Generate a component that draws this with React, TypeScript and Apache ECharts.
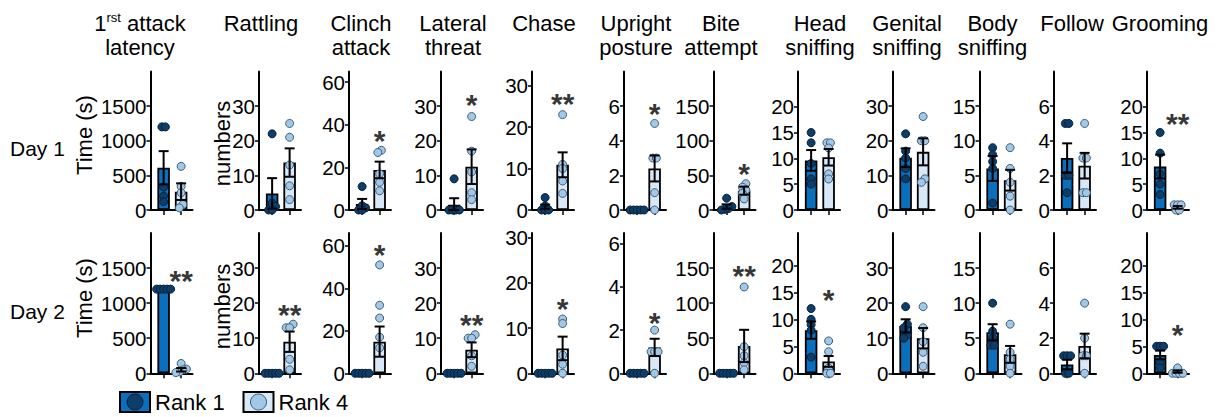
import React, { useEffect, useRef } from "react";
import * as echarts from "echarts";

// ---------- data ----------
const titles: string[][] = [
  ["1rst attack", "latency"], ["Rattling"], ["Clinch", "attack"], ["Lateral", "threat"],
  ["Chase"], ["Upright", "posture"], ["Bite", "attempt"], ["Head", "sniffing"],
  ["Genital", "sniffing"], ["Body", "sniffing"], ["Follow"], ["Grooming"],
];
const rowLabels = ["Day 1", "Day 2"];
const yNames = ["Time (s)", "numbers"];
const legendNames = ["Rank 1", "Rank 4"];

const yMaxDay1 = [2000, 40, 65, 40, 33.4, 8, 200, 26.8, 40, 20, 8, 26.8];
const yMaxDay2 = [2000, 40, 66, 40, 31, 6.5, 200, 26, 40, 20, 8, 26];
const yTicks = [
  [0, 500, 1000, 1500], [0, 10, 20, 30], [0, 20, 40, 60], [0, 10, 20, 30],
  [0, 10, 20, 30], [0, 2, 4, 6], [0, 50, 100, 150], [0, 5, 10, 15, 20],
  [0, 10, 20, 30], [0, 5, 10, 15], [0, 2, 4, 6], [0, 5, 10, 15, 20],
];

// Day 1
const day1Rank1Points = [
  [1200, 1200, 330, 200, 120], [22, 2, 1, 0, 0], [11, 2, 1, 0, 0], [9, 0, 0, 0, 0],
  [3, 1, 0, 0, 0], [0, 0, 0, 0, 0], [17, 5, 2, 1, 0], [15, 13, 9, 6, 5],
  [22, 17, 15, 12, 9], [9, 8, 7, 6, 1], [5, 5, 2, 2, 1], [15, 11, 7, 5, 3],
];
const day1Rank1Mean = [610, 4.8, 2.8, 1.5, 0.8, 0, 5, 9.6, 15.1, 6.0, 3.0, 8.4];
const day1Rank1Sem = [240, 4.4, 2.4, 1.9, 0.5, 0, 3.2, 2.0, 2.7, 1.8, 0.85, 2.3];
const day1Rank4Points = [
  [630, 340, 250, 80, 30], [25, 21, 13, 7, 3], [28, 27, 17, 13, 9], [27, 17, 11, 5, 3],
  [23, 11, 10, 7, 4], [5, 3, 3, 1, 0], [38, 33, 29, 24, 16], [13, 13, 12, 7, 6],
  [27, 20, 20, 9, 8], [9, 6, 4, 2, 0], [5, 3, 3, 1, 1], [1, 1, 1, 0, 0],
];
const day1Rank4Mean = [265, 13.7, 18.8, 12.5, 10.9, 2.4, 27.9, 10.2, 16.8, 4.3, 2.56, 0.5];
const day1Rank4Sem = [120, 4.1, 3.9, 5.0, 3.0, 0.75, 5.8, 1.6, 3.9, 1.5, 0.74, 0.25];
const day1Sig = ["", "", "*", "*", "**", "*", "*", "", "", "", "", "**"];
const day1SigY = [0, 0, 36, 32.4, 27.3, 6, 62.5, 0, 0, 0, 0, 18];

// Day 2
const day2Rank1Points = [
  [1200, 1200, 1200, 1200, 1200], [0, 0, 0, 0, 0], [0, 0, 0, 0, 0], [0, 0, 0, 0, 0],
  [0, 0, 0, 0, 0], [0, 0, 0, 0, 0], [0, 0, 0, 0, 0], [12, 10, 9, 8, 3],
  [19, 14, 13, 11, 10], [10, 6, 5, 4, 4], [1, 1, 1, 0, 0], [5, 5, 5, 2, 1],
];
const day2Rank1Mean = [1200, 0, 0, 0, 0, 0, 0, 8.0, 13.5, 5.85, 0.5, 3.4];
const day2Rank1Sem = [0, 0, 0, 0, 0, 0, 0, 1.6, 1.9, 1.15, 0.27, 0.8];
const day2Rank4Points = [
  [140, 60, 50, 20, 10], [14, 13, 13, 4, 1], [51, 32, 26, 17, 12], [11, 10, 10, 5, 2],
  [12, 11, 4, 2, 0], [2, 1, 1, 1, 0], [123, 38, 25, 15, 5], [6, 4, 1, 0, 0],
  [19, 13, 9, 6, 2], [7, 3, 2, 1, 0], [4, 2, 1, 1, 0], [1, 0, 0, 0, 0],
];
const day2Rank4Mean = [50, 9.0, 14.9, 6.7, 5.5, 1.2, 39, 2.2, 10, 2.7, 1.56, 0.3];
const day2Rank4Sem = [25, 2.9, 7.1, 2.1, 2.6, 0.4, 23, 1.0, 2.9, 1.2, 0.7, 0.2];
const day2Sig = ["**", "**", "*", "**", "*", "*", "**", "*", "", "", "", "*"];
const day2SigY = [1429, 18.9, 59, 16, 15.8, 2.7, 150, 14.9, 0, 0, 0, 8.4];

// ---------- layout / style ----------
const FONT = '"Liberation Sans", Arial, sans-serif';
const AXIS_X = [150.5, 259, 349, 441, 532, 624, 713.5, 798, 892.5, 979.5, 1054, 1147];
const ROW_TOP = [71.5, 233];
const ROW_ZERO = [210, 373.3];
const PANEL_W = 42;
const TITLE_X = [140, 261, 361, 453, 544, 636, 721, 820, 907, 992.5, 1072, 1160];
const R1_BAR = "#0a6fbd";
const R1_PT = "#0d3d69";
const R4_BAR = "#d8e8f6";
const R4_PT = "#a2c8e8";
const STEP = 3.5;
const TXT = 22;

function swarm(vals: number[], k: number): number[] {
  const idx = vals.map((_, i) => i).sort((a, b) => vals[a] - vals[b]);
  const offs = new Array(vals.length).fill(0);
  let cluster: number[] = [];
  const flush = () => {
    const m = cluster.length;
    cluster.forEach((id, j) => (offs[id] = (j - (m - 1) / 2) * STEP));
    cluster = [];
  };
  for (const id of idx) {
    if (cluster.length && (vals[id] - vals[cluster[0]]) * k > 4) flush();
    cluster.push(id);
  }
  flush();
  return offs;
}

function buildOption() {
  const grid: any[] = [];
  const xAxis: any[] = [];
  const yAxis: any[] = [];
  const series: any[] = [];
  const graphic: any[] = [];

  const rows = [
    { max: yMaxDay1, p1: day1Rank1Points, m1: day1Rank1Mean, s1: day1Rank1Sem, p4: day1Rank4Points, m4: day1Rank4Mean, s4: day1Rank4Sem, sig: day1Sig, sigY: day1SigY },
    { max: yMaxDay2, p1: day2Rank1Points, m1: day2Rank1Mean, s1: day2Rank1Sem, p4: day2Rank4Points, m4: day2Rank4Mean, s4: day2Rank4Sem, sig: day2Sig, sigY: day2SigY },
  ];

  rows.forEach((row, r) => {
    for (let p = 0; p < 12; p++) {
      const gi = r * 12 + p;
      const h = ROW_ZERO[r] - ROW_TOP[r];
      const max = row.max[p];
      const k = h / max;
      grid.push({ left: AXIS_X[p], top: ROW_TOP[r], width: PANEL_W, height: h, containLabel: false, outerBoundsMode: "none" });
      xAxis.push({
        gridIndex: gi, type: "value", min: -0.75, max: 1.65,
        axisLine: { show: true, onZero: true, lineStyle: { color: "#000", width: 2 } },
        axisTick: { show: true, customValues: [0, 1], length: 5, lineStyle: { color: "#000", width: 1.5 } },
        axisLabel: { show: false }, splitLine: { show: false },
      });
      yAxis.push({
        gridIndex: gi, type: "value", min: 0, max,
        axisLine: { show: true, onZero: false, lineStyle: { color: "#000", width: 2 } },
        axisTick: { show: true, customValues: yTicks[p], length: 4, lineStyle: { color: "#000", width: 1.5 } },
        axisLabel: {
          show: true, customValues: yTicks[p], color: "#000", fontSize: 20.5, fontFamily: FONT,
          margin: 4, padding: [0, 0, 12, 0], formatter: (v: number) => String(v),
        },
        splitLine: { show: false },
      });
      series.push({
        type: "bar", xAxisIndex: gi, yAxisIndex: gi, barWidth: 12.5, silent: true, z: 2,
        itemStyle: { borderColor: "#000", borderWidth: 1.8 },
        data: [
          { value: [0, row.m1[p]], itemStyle: { color: R1_BAR } },
          { value: [1, row.m4[p]], itemStyle: { color: R4_BAR } },
        ],
      });
      const o1 = swarm(row.p1[p], k);
      series.push({
        type: "scatter", xAxisIndex: gi, yAxisIndex: gi, clip: false, silent: true, z: 3,
        symbol: "circle", symbolSize: 8,
        itemStyle: { color: R1_PT, borderColor: "#06223d", borderWidth: 1, opacity: 1 },
        data: row.p1[p].map((v, i) => ({ value: [0, v], symbolOffset: [o1[i], 0] })),
      });
      const o4 = swarm(row.p4[p], k);
      series.push({
        type: "scatter", xAxisIndex: gi, yAxisIndex: gi, clip: false, silent: true, z: 3,
        symbol: "circle", symbolSize: 8,
        itemStyle: { color: R4_PT, borderColor: "#3e5d7a", borderWidth: 1, opacity: 1 },
        data: row.p4[p].map((v, i) => ({ value: [1, v], symbolOffset: [o4[i], 0] })),
      });
      series.push({
        type: "custom", xAxisIndex: gi, yAxisIndex: gi, silent: true, z: 4, clip: false,
        data: [[0, row.m1[p], row.s1[p]], [1, row.m4[p], row.s4[p]]],
        renderItem: (params: any, api: any) => {
          const x = api.value(0), m = api.value(1), s = api.value(2);
          if (!(s > 0)) return { type: "group", children: [] };
          const top = api.coord([x, m + s]);
          const bot = api.coord([x, Math.max(0, m - s)]);
          const hw = 5;
          const st = { stroke: "#000", lineWidth: 2 };
          return {
            type: "group",
            children: [
              { type: "line", shape: { x1: top[0], y1: top[1], x2: bot[0], y2: bot[1] }, style: st },
              { type: "line", shape: { x1: top[0] - hw, y1: top[1], x2: top[0] + hw, y2: top[1] }, style: st },
              { type: "line", shape: { x1: bot[0] - hw, y1: bot[1], x2: bot[0] + hw, y2: bot[1] }, style: st },
            ],
          };
        },
      });
      if (row.sig[p]) {
        series.push({
          type: "scatter", xAxisIndex: gi, yAxisIndex: gi, clip: false, silent: true, z: 5,
          symbol: "circle", symbolSize: 1, itemStyle: { color: "rgba(0,0,0,0)" },
          label: {
            show: true, position: "inside", formatter: row.sig[p], color: "#000",
            fontSize: 30, fontWeight: "bold", fontFamily: FONT, offset: [0, 7],
          },
          data: [[1, row.sigY[p]]],
        });
      }
    }
  });

  // titles
  titles.forEach((t, p) => {
    t.forEach((line, li) => {
      const y = li === 0 ? 23.2 : 47.6;
      if (line.startsWith("1rst")) {
        graphic.push({
          type: "text", x: TITLE_X[p], y,
          style: {
            text: "{n|1}{s|rst}{n|" + line.slice(4) + "}",
            align: "center", verticalAlign: "middle", fill: "#000",
            rich: {
              n: { fontSize: TXT, fontFamily: FONT, fill: "#000", lineHeight: 25 },
              s: { fontSize: 13, fontFamily: FONT, fill: "#000", verticalAlign: "top", lineHeight: 25 },
            },
          },
        });
      } else {
        graphic.push({
          type: "text", x: TITLE_X[p], y,
          style: { text: line, font: TXT + "px " + FONT, fill: "#000", align: "center", verticalAlign: "middle" },
        });
      }
    });
  });

  // row labels and y axis names
  rowLabels.forEach((lab, r) => {
    const dy = r === 0 ? 0 : 163;
    graphic.push({
      type: "text", x: 10, y: 148.5 + dy,
      style: { text: lab, font: "21px " + FONT, fill: "#000", align: "left", verticalAlign: "middle" },
    });
    graphic.push({
      type: "text", x: 84, y: 135 + dy, rotation: Math.PI / 2,
      style: { text: yNames[0], font: TXT + "px " + FONT, fill: "#000", align: "center", verticalAlign: "middle" },
    });
    graphic.push({
      type: "text", x: 222, y: 143.5 + dy, rotation: Math.PI / 2,
      style: { text: yNames[1], font: TXT + "px " + FONT, fill: "#000", align: "center", verticalAlign: "middle" },
    });
  });

  // legend
  const legX = [120, 243.5];
  legendNames.forEach((name, i) => {
    graphic.push({ type: "rect", shape: { x: legX[i], y: 392, width: 30, height: 20 }, style: { fill: i === 0 ? R1_BAR : R4_BAR, stroke: "#000", lineWidth: 2 } });
    graphic.push({ type: "circle", shape: { cx: legX[i] + 15, cy: 402, r: 8 }, style: { fill: i === 0 ? R1_PT : R4_PT, stroke: i === 0 ? "#06223d" : "#3e5d7a", lineWidth: 1 } });
    graphic.push({
      type: "text", x: legX[i] + 35, y: 402,
      style: { text: name, font: TXT + "px " + FONT, fill: "#000", align: "left", verticalAlign: "middle" },
    });
  });

  return { animation: false, backgroundColor: "#fff", grid, xAxis, yAxis, series, graphic };
}

export default function App() {
  const ref = useRef<HTMLDivElement>(null);
  useEffect(() => {
    const chart = echarts.init(ref.current!, null, { renderer: "svg" });
    chart.setOption(buildOption() as any);
    return () => chart.dispose();
  }, []);
  return <div ref={ref} style={{ position: "absolute", left: 0, top: 0, width: 1220, height: 417 }} />;
}
